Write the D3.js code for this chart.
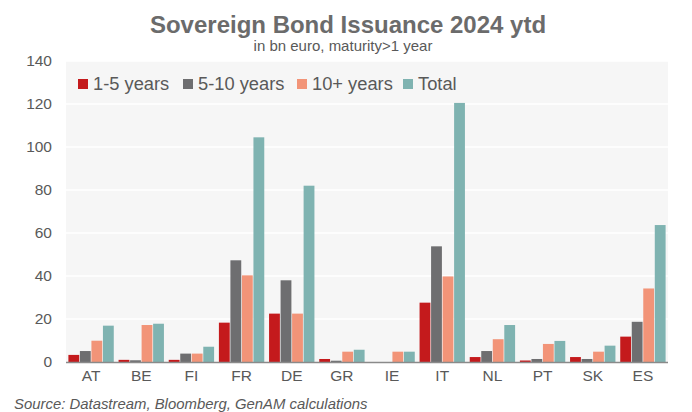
<!DOCTYPE html>
<html><head><meta charset="utf-8">
<script src="https://cdn.jsdelivr.net/npm/d3@7"></script>
<style>body{margin:0;background:#fff}svg{display:block;font-family:"Liberation Sans",Arial,sans-serif}</style>
</head><body><svg id="c" width="692" height="412"></svg>
<script>
const categories = ["AT","BE","FI","FR","DE","GR","IE","IT","NL","PT","SK","ES"];
const seriesNames = ["1-5 years","5-10 years","10+ years","Total"];
const short = [3.3,1.0,1.0,18.3,22.5,1.4,0,27.6,2.3,0.7,2.3,11.8];
const medium = [5.1,0.8,3.9,47.3,38.0,0.6,0,53.8,5.1,1.4,1.4,18.7];
const long = [9.9,17.2,3.9,40.3,22.5,4.8,4.8,39.8,10.6,8.4,4.8,34.2];
const total = [16.9,17.8,7.1,104.5,82.0,5.7,4.8,120.5,17.2,9.8,7.6,63.7];
const yTicks = [0,20,40,60,80,100,120,140];
const colors = ["#c41a1c","#6e6e70","#f29478","#7fb3b1"];
const values = [short, medium, long, total];

const svg = d3.select("#c");
const m = {l:66, r:668, t:61, b:362};
const x0 = d3.scaleBand().domain(categories).range([m.l, m.r]).paddingInner(0).paddingOuter(0);
const x1 = d3.scaleBand().domain(d3.range(4)).range([2.4, x0.bandwidth()-2.4]).paddingInner(0.06);
const y = d3.scaleLinear().domain([0,140]).range([m.b, m.t]);

svg.append("rect").attr("x", m.l).attr("y", m.t).attr("width", m.r-m.l).attr("height", m.b-m.t).attr("fill","#f6f6f6");
svg.append("g").selectAll("line").data(yTicks.slice(1)).join("line")
  .attr("x1", m.l).attr("x2", m.r).attr("y1", d=>y(d)).attr("y2", d=>y(d))
  .attr("stroke","#ffffff").attr("stroke-width",1.5);

const yAxis = svg.append("g").attr("transform",`translate(${m.l},0)`)
  .call(d3.axisLeft(y).tickValues(yTicks).tickSize(0).tickPadding(14));
yAxis.select(".domain").remove();
yAxis.selectAll("text").attr("font-size",15.5).attr("fill","#595959").attr("font-family","Liberation Sans, Arial, sans-serif");

const groups = svg.append("g").selectAll("g").data(categories).join("g")
  .attr("transform", d=>`translate(${x0(d)},0)`);
groups.selectAll("rect").data((d,i)=>values.map((v,k)=>({k, v:v[i]}))).join("rect")
  .attr("x", d=>x1(d.k)).attr("width", x1.bandwidth())
  .attr("y", d=>y(d.v)).attr("height", d=>y(0)-y(d.v))
  .attr("fill", d=>colors[d.k]);

svg.append("line").attr("x1",m.l).attr("x2",m.r).attr("y1",m.b+0.5).attr("y2",m.b+0.5).attr("stroke","#8a8a8a").attr("stroke-width",1.5);

const xAxis = svg.append("g").attr("transform",`translate(0,${m.b})`)
  .call(d3.axisBottom(x0).tickSize(0).tickPadding(8));
xAxis.select(".domain").remove();
xAxis.selectAll("text").attr("font-size",15.5).attr("fill","#595959").attr("font-family","Liberation Sans, Arial, sans-serif");

// title
svg.append("text").attr("x",348).attr("y",33).attr("text-anchor","middle")
  .attr("font-size",24).attr("font-weight","bold").attr("fill","#6b6b6b").text("Sovereign Bond Issuance 2024 ytd");
svg.append("text").attr("x",343).attr("y",51).attr("text-anchor","middle")
  .attr("font-size",15).attr("fill","#595959").text("in bn euro, maturity>1 year");

// legend
const legX = [78, 183, 297, 403];
const leg = svg.append("g").selectAll("g").data(seriesNames).join("g")
  .attr("transform",(d,i)=>`translate(${legX[i]},78)`);
leg.append("rect").attr("width",10).attr("height",10).attr("y",1).attr("fill",(d,i)=>colors[i]);
leg.append("text").attr("x",15).attr("y",11.5).attr("font-size",18.3).attr("fill","#595959").text(d=>d);

svg.append("text").attr("x",14).attr("y",409).attr("font-size",14.9).attr("font-style","italic").attr("fill","#595959")
  .text("Source: Datastream, Bloomberg, GenAM calculations");
</script></body></html>
